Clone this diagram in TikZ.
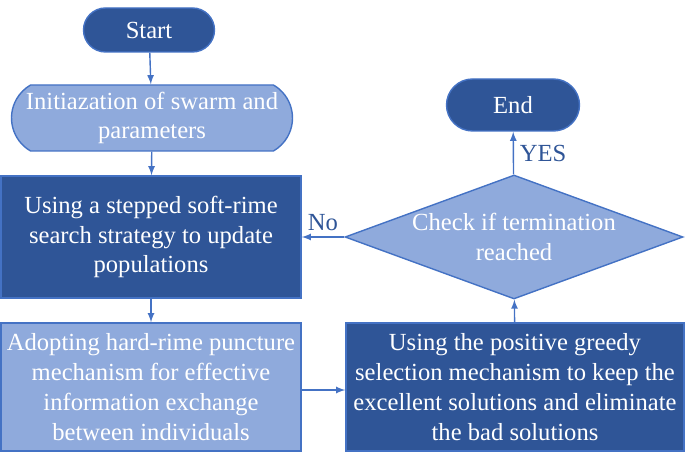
\documentclass[tikz,border=0pt]{standalone}
\usepackage{fontspec}
\setmainfont{Liberation Serif}
\usetikzlibrary{shapes.geometric, shapes.misc, positioning}
\definecolor{darkb}{HTML}{2F5597}
\definecolor{lightb}{HTML}{8FAADC}
\definecolor{lineb}{HTML}{4472C4}
\tikzset{
  box/.style={draw=lineb, thick, text=white, align=center, font=\fontsize{14}{17}\selectfont, inner sep=2pt},
  arr/.style={->, thick, lineb, >=latex},
}
\begin{document}
\begin{tikzpicture}[x=0.02cm, y=-0.02cm]
\useasboundingbox (0,0) rectangle (685,455);
\node[box, fill=darkb, rounded rectangle, minimum width=138*0.02cm, minimum height=44*0.02cm] (start) at (149,30) {Start};
\node[box, fill=lightb, rounded rectangle, rounded rectangle arc length=120, minimum width=288*0.02cm, minimum height=66*0.02cm] (init) at (152,118) {Initiazation of swarm and\\parameters};
\node[box, fill=darkb, minimum width=300*0.02cm, minimum height=122*0.02cm] (soft) at (151,237) {Using a stepped soft-rime\\search strategy to update\\populations};
\node[box, fill=lightb, minimum width=300*0.02cm, minimum height=128*0.02cm] (hard) at (151,387) {Adopting hard-rime puncture\\mechanism for effective\\information exchange\\between individuals};
\node[box, fill=darkb, minimum width=338*0.02cm, minimum height=128*0.02cm] (greedy) at (515,387) {Using the positive greedy\\selection mechanism to keep the\\excellent solutions and eliminate\\the bad solutions};
\node[box, fill=lightb, diamond, aspect=2.7, minimum width=338*0.02cm, minimum height=124*0.02cm, inner sep=0pt] (check) at (514,237) {Check if termination\\reached};
\node[box, fill=darkb, rounded rectangle, minimum width=140*0.02cm, minimum height=52*0.02cm] (end) at (513,105) {End};
% Arrows
\draw[arr] (start) -- (init);
\draw[arr] (init) -- (soft);
\draw[arr] (soft) -- (hard);
\draw[arr] (hard.east |- 0,390) -- (greedy.west |- 0,390);
\draw[arr] (greedy) -- (check);
\draw[arr] (check) -- node[right, text=darkb, font=\fontsize{14}{17}\selectfont] {YES} (end);
\draw[arr] (check) -- node[above, text=darkb, font=\fontsize{14}{17}\selectfont] {No} (soft);
\end{tikzpicture}
\end{document}
